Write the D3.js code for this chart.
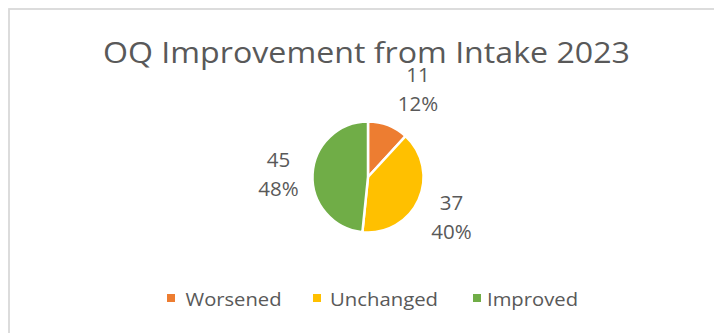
<!DOCTYPE html>
<html>
<head>
<meta charset="utf-8">
<script src="https://cdn.jsdelivr.net/npm/d3@7"></script>
<style>
  html, body { margin: 0; padding: 0; background: #fff; }
  svg { display: block; }
  text { font-family: "Open Sans", sans-serif; fill: #595959; }
</style>
</head>
<body>
<svg id="chart" width="714" height="333"></svg>
<script>
// Outcome categories and their counts
const categories = ["Worsened", "Unchanged", "Improved"];
const counts = [11, 37, 45];
const colors = ["#ED7D31", "#FFC000", "#70AD47"];
const titleText = "OQ Improvement from Intake 2023";

const svg = d3.select("#chart");
const W = 714, H = 333;

// chart area frame (top and left edges visible)
svg.append("rect")
  .attr("x", 9).attr("y", 9)
  .attr("width", W + 20).attr("height", H + 20)
  .attr("fill", "#fff").attr("stroke", "#d9d9d9").attr("stroke-width", 1.8);

// title
svg.append("text")
  .attr("x", 103).attr("y", 62.5)
  .attr("font-size", 30)
  .attr("textLength", 527)
  .attr("lengthAdjust", "spacingAndGlyphs")
  .text(titleText);

const data = categories.map((c, i) => ({ name: c, value: counts[i], color: colors[i] }));
const total = d3.sum(counts);

const cx = 368, cy = 177, r = 55.5;
const pie = d3.pie().value(d => d.value).sort(null);
const arc = d3.arc().innerRadius(0).outerRadius(r);
const arcs = pie(data);

const g = svg.append("g").attr("transform", `translate(${cx},${cy})`);
g.selectAll("path")
  .data(arcs)
  .join("path")
  .attr("d", arc)
  .attr("fill", d => d.data.color)
  .attr("stroke", "#fff")
  .attr("stroke-width", 2.5)
  .attr("stroke-linejoin", "round");

// data labels: value over percentage, placed outside each slice
const labelPos = [[418, 82], [451.5, 210], [278.5, 166.7]];
arcs.forEach((a, i) => {
  const [lx, ly] = labelPos[i];
  const t = svg.append("text")
    .attr("text-anchor", "middle")
    .attr("font-size", 20.5);
  t.append("tspan").attr("x", lx).attr("y", ly).text(a.data.value);
  t.append("tspan").attr("x", lx).attr("y", ly + 29)
    .text(Math.round(a.data.value / total * 100) + "%");
});

// legend
const legendX = [167, 313, 473];
const legendTextX = [185.5, 330, 487];
const legendW = [96, 108, 91];
const legend = svg.append("g");
data.forEach((d, i) => {
  legend.append("rect")
    .attr("x", legendX[i]).attr("y", 294)
    .attr("width", 8).attr("height", 8)
    .attr("fill", d.color);
  legend.append("text")
    .attr("x", legendTextX[i]).attr("y", 306)
    .attr("font-size", 18)
    .attr("textLength", legendW[i])
    .attr("lengthAdjust", "spacingAndGlyphs")
    .text(d.name);
});
</script>
</body>
</html>
